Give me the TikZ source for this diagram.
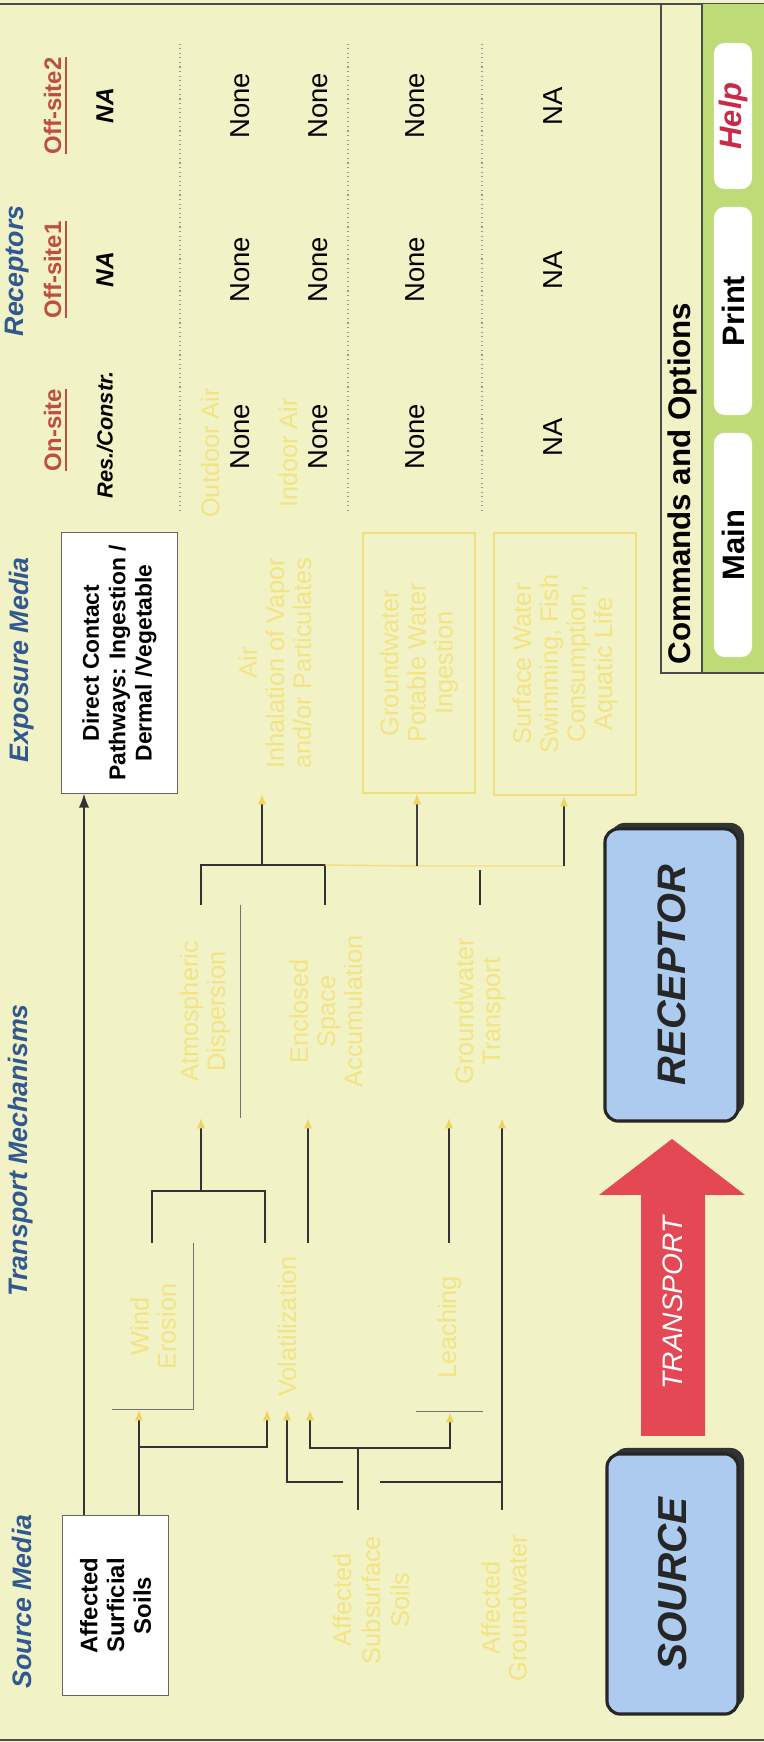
\documentclass[tikz,border=0pt]{standalone}
\usepackage{fontspec}
\setmainfont{Liberation Sans}
\usetikzlibrary{arrows.meta}

\definecolor{bgpale}{RGB}{241,243,198}
\definecolor{faint}{RGB}{244,227,130}
\definecolor{faintedge}{RGB}{240,222,128}
\definecolor{fainttip}{RGB}{238,212,100}
\definecolor{hdrblue}{RGB}{48,88,145}
\definecolor{sitered}{RGB}{190,78,62}
\definecolor{boxblue}{RGB}{172,203,238}
\definecolor{arrowred}{RGB}{228,72,84}
\definecolor{cmdgreen}{RGB}{190,219,120}
\definecolor{helpred}{RGB}{200,42,72}

\tikzset{
  hdr/.style={inner sep=0pt, anchor=west, text=hdrblue, font=\fontsize{7.6}{8}\selectfont\bfseries\itshape},
  site/.style={inner sep=0pt, text=sitered, font=\fontsize{6.8}{8}\selectfont\bfseries},
  cellnone/.style={inner sep=0pt, font=\fontsize{7.8}{9}\selectfont},
  cellit/.style={inner sep=0pt, font=\fontsize{7}{8}\selectfont\bfseries\itshape},
  whitebox/.style={draw=black!60, line width=0.3pt, fill=white, inner sep=0pt, align=center, font=\fontsize{6.5}{7.5}\selectfont\bfseries},
  fainttxt/.style={inner sep=0pt, align=center, text=faint, font=\fontsize{7.2}{7.7}\selectfont},
  faintbox/.style={fainttxt, draw=faintedge, line width=0.4pt},
  srcbox/.style={draw=black!85, line width=0.9pt, fill=boxblue, rounded corners=3.8pt, inner sep=0pt, text=black!85, font=\fontsize{11.5}{12}\selectfont\bfseries\itshape},
  blk/.style={draw=black!80, line width=0.65pt},
  thinblk/.style={draw=black!75, line width=0.35pt},
  boxedge/.style={draw=black!55, line width=0.3pt},
  rowsep/.style={draw=black!40, line width=0.3pt, densely dotted},
  faintline/.style={draw=faintedge, line width=0.4pt},
  tipy/.style={-{Latex[length=3pt,width=2.4pt,color=fainttip]}},
  tipk/.style={-{Latex[length=4pt,width=3pt]}},
  btn/.style={fill=white, rounded corners=3pt, minimum height=0.38cm, inner sep=0pt, font=\fontsize{8.8}{9}\selectfont\bfseries}
}

\begin{document}
\begin{tikzpicture}[x=0.01cm,y=0.01cm]
\fill[bgpale] (0,0) rectangle (764,1742);
\useasboundingbox (0,0) rectangle (764,1742);
\begin{scope}[rotate=90, transform shape]
% frame
\draw[black!70, line width=0.5pt] (1738,0) -- (1738,-764);
\draw[black!70, line width=0.5pt] (2,0) -- (2,-764);

% source media
\node[hdr] (hsrc) at (53,-22) {Source Media};
\node[whitebox, font=\fontsize{6.8}{7.6}\selectfont\bfseries, minimum width=1.79cm, minimum height=1.05cm] (surf) at (136.5,-115.5) {Affected\\Surficial\\Soils};
\node[fainttxt, font=\fontsize{7.2}{8.2}\selectfont] (sub) at (142,-371) {Affected\\Subsurface\\Soils};
\node[fainttxt] (agw) at (134,-504) {Affected\\Groundwater};

% transport mechanisms
\node[hdr] (htr) at (445,-21) {Transport Mechanisms};
\node[fainttxt, minimum width=1.65cm, minimum height=0.8cm] (wind) at (415.5,-153) {Wind\\Erosion};
\node[fainttxt, minimum width=1.65cm, minimum height=0.7cm] (vol) at (415.5,-287) {Volatilization};
\node[fainttxt, minimum width=1.67cm, minimum height=0.65cm] (leach) at (414.5,-449.5) {Leaching};
\node[fainttxt, minimum width=2.11cm, minimum height=0.7cm] (atm) at (730.5,-205) {Atmospheric\\Dispersion};
\node[fainttxt, minimum width=2.11cm, minimum height=0.9cm] (encl) at (730.5,-326) {Enclosed\\Space\\Accumulation};
\node[fainttxt, minimum width=2.11cm, minimum height=0.85cm] (gwt) at (730.5,-480) {Groundwater\\Transport};
\draw[boxedge] (wind.north west) -- (wind.south west) -- (wind.south east);
\draw[boxedge] (leach.north west) -- (leach.south west);
\draw[boxedge] (atm.south west) -- (atm.south east);

% exposure media
\node[hdr] (hexp) at (979,-22) {Exposure Media};
\node[whitebox, minimum width=2.6cm, minimum height=1.15cm] (dc) at (1079,-119.5) {Direct Contact\\Pathways: Ingestion /\\Dermal /Vegetable};
\node[fainttxt, minimum width=2.6cm, minimum height=0.9cm] (air) at (1079,-275) {Air\\Inhalation of Vapor\\and/or Particulates};
\node[faintbox, minimum width=2.6cm, minimum height=1.12cm] (gw) at (1079,-419) {Groundwater\\Potable Water\\Ingestion};
\node[faintbox, minimum width=2.62cm, minimum height=1.42cm] (swat) at (1078,-565) {Surface Water\\Swimming, Fish\\Consumption,\\Aquatic Life};

% receptors
\node[hdr] (hrec) at (1405,-17) {Receptors};
\node[site] (on) at (1312,-56) {\underline{On-site}};
\node[site] (off1) at (1472,-56) {\underline{Off-site1}};
\node[site] (off2) at (1636,-56) {\underline{Off-site2}};
\node[cellit, font=\fontsize{6.2}{7}\selectfont\bfseries\itshape] (dc0) at (1307,-105) {Res./Constr.};
\node[cellit] (dc1) at (1472,-105) {NA};
\node[cellit] (dc2) at (1636,-105) {NA};
\node[fainttxt] (outd) at (1289,-210) {Outdoor Air};
\node[fainttxt] (ind) at (1289,-288) {Indoor Air};
\foreach \c/\x in {0/1305,1/1472,2/1636}{
  \node[cellnone] (oa\c) at (\x,-240) {None};
  \node[cellnone] (ia\c) at (\x,-318) {None};
  \node[cellnone] (gw\c) at (\x,-415) {None};
  \node[cellnone] (sw\c) at (\x,-553) {NA};
}
\draw[rowsep] (1231,-180) -- (1698,-180);
\draw[rowsep] (1231,-348) -- (1698,-348);
\draw[rowsep] (1231,-482) -- (1698,-482);

% commands and options
\fill[cmdgreen] (1069,-702) rectangle (1738,-764);
\draw[black!70, line width=0.4pt] (1738,-661) -- (1069,-661) -- (1069,-764);
\draw[black!70, line width=0.4pt] (1069,-702) -- (1738,-702);
\node[inner sep=0pt, anchor=west, font=\fontsize{8.9}{9}\selectfont\bfseries] (cmd) at (1077,-682) {Commands and Options};
\node[btn, minimum width=2.24cm] (bmain) at (1197,-733) {Main};
\node[btn, minimum width=2.08cm] (bprint) at (1431,-733) {Print};
\node[btn, minimum width=1.46cm, text=helpred, font=\fontsize{8.8}{9}\selectfont\bfseries\itshape] (bhelp) at (1626,-733) {Help};

% source -> transport -> receptor
\fill[black!80, rounded corners=3.8pt] (34,-613) rectangle (294,-744);
\node[srcbox, minimum width=2.6cm, minimum height=1.31cm] (src) at (158,-672.5) {SOURCE};
\fill[arrowred] (306,-641) -- (547,-641) -- (547,-599) -- (603,-672) -- (547,-745) -- (547,-705) -- (306,-705) -- cycle;
\node[inner sep=0pt, text=white, font=\fontsize{8}{9}\selectfont\itshape] (trans) at (439,-673) {TRANSPORT};
\fill[black!80, rounded corners=3.8pt] (627,-611) rectangle (919,-744);
\node[srcbox, minimum width=2.92cm, minimum height=1.33cm, font=\fontsize{11.3}{12}\selectfont\bfseries\itshape] (rcp) at (767,-671.5) {RECEPTOR};

% connectors
\coordinate (dcy) at (0,-84);
\draw[blk, line width=0.5pt, tipk] (surf.east |- dcy) -- (dc.west |- dcy);
\coordinate (wj) at (295,-139);
\coordinate (vj) at (295,-267);
\draw[blk, tipy] (surf.east |- wj) -- (wind.west |- wj);
\draw[blk, tipy] (wj) -- (vj) -- (vol.west |- vj);
\coordinate (b1l) at (551,-152);
\coordinate (b1m) at (551,-201);
\coordinate (b1r) at (551,-265);
\draw[blk] (wind.east |- b1l) -- (b1l) -- (b1r) -- (vol.east |- b1r);
\draw[blk, tipy] (b1m) -- (atm.west |- b1m);
\coordinate (ve) at (0,-308);
\draw[blk, tipy] (vol.east |- ve) -- (encl.west |- ve);
\coordinate (b2l) at (877,-201);
\coordinate (b2m) at (877,-262);
\coordinate (b2r) at (877,-325);
\draw[blk] (atm.east |- b2l) -- (b2l) -- (b2r) -- (encl.east |- b2r);
\draw[blk, tipy] (b2m) -- (air.west |- b2m);
\coordinate (b3l) at (876,-417);
\coordinate (b3m) at (876,-480);
\coordinate (b3r) at (876,-564);
\draw[faintline] (b2r) -- (b3l) -- (b3r);
\draw[blk] (gwt.east |- b3m) -- ([xshift=-1pt]b3m);
\draw[thinblk, tipy] (b3l) -- (gw.west |- b3l);
\draw[blk, tipy] (b3r) -- (swat.west |- b3r);
\coordinate (sb) at (232,-358);
\coordinate (sj) at (294,-358);
\coordinate (sl) at (294,-310);
\coordinate (sr) at (294,-450);
\draw[blk] (sb) -- (sj);
\draw[blk, tipy] (sj) -- (sl) -- (vol.west |- sl);
\draw[blk, tipy] (sj) -- (sr) -- (leach.west |- sr);
\coordinate (gb) at (232,-502);
\coordinate (gj) at (260,-502);
\coordinate (gh1) at (260,-380);
\coordinate (gh2) at (260,-343);
\coordinate (gv) at (260,-287);
\draw[blk, tipy] (gb) -- (gwt.west |- gb);
\draw[blk] (gj) -- (gh1);
\draw[blk, tipy] (gh2) -- (gv) -- (vol.west |- gv);
\coordinate (le) at (0,-449);
\draw[blk, tipy] (leach.east |- le) -- (gwt.west |- le);
\end{scope}
\end{tikzpicture}
\end{document}
